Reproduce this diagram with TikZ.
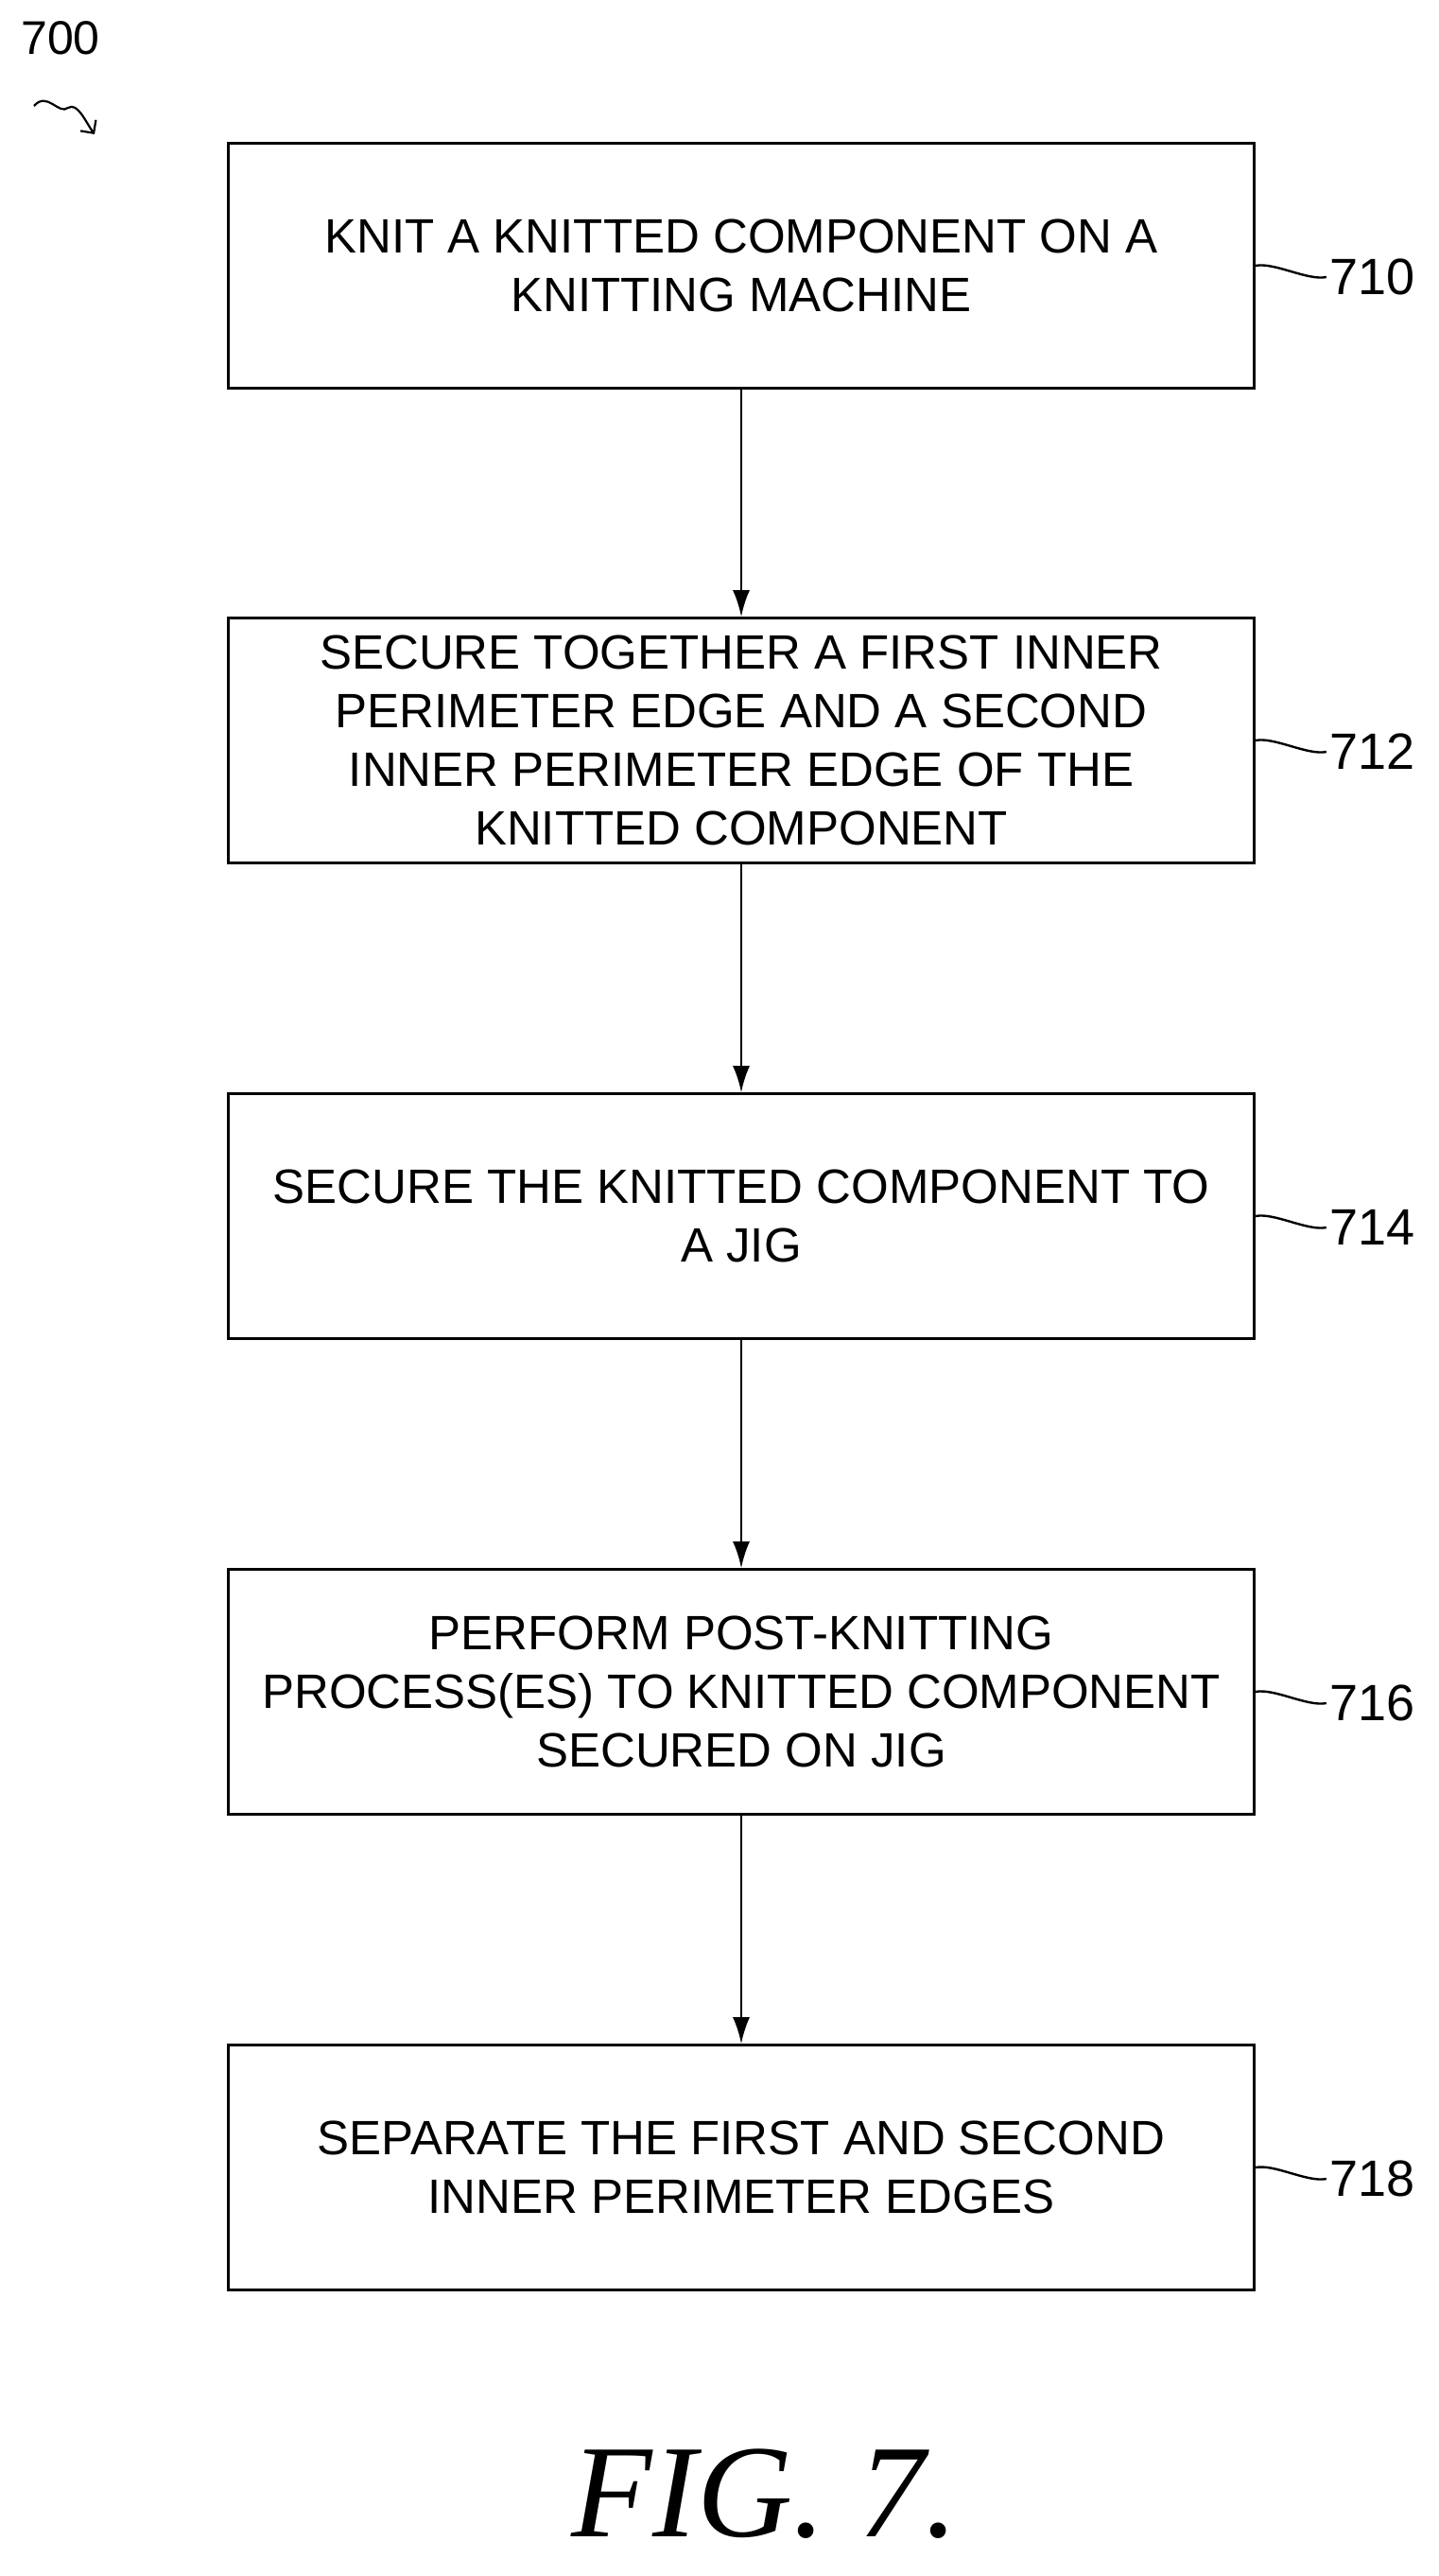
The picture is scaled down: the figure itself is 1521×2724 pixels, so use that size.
\documentclass[tikz,border=0pt]{standalone}
\usepackage{fontspec}
\setmainfont{Liberation Sans}
\newfontfamily\figfont{Liberation Serif}
\usetikzlibrary{arrows.meta}
\begin{document}
\begin{tikzpicture}[x=1pt,y=-1pt,
  box/.style={draw,line width=2.6pt,minimum width=1085pt,minimum height=259pt,align=center,font=\fontsize{51}{62}\selectfont,inner sep=0pt},
  arr/.style={line width=2.6pt,-{Latex[length=28pt,width=18pt]}},
  lab/.style={font=\fontsize{54}{58}\selectfont,anchor=west},
  lead/.style={line width=2.4pt}]
\useasboundingbox (0,0) rectangle (1521,2724);
\node[box] (b1) at (784,281) {KNIT A KNITTED COMPONENT ON A\\KNITTING MACHINE};
\node[box] (b2) at (784,783) {SECURE TOGETHER A FIRST INNER\\PERIMETER EDGE AND A SECOND\\INNER PERIMETER EDGE OF THE\\KNITTED COMPONENT};
\node[box] (b3) at (784,1286) {SECURE THE KNITTED COMPONENT TO\\A JIG};
\node[box] (b4) at (784,1789) {PERFORM POST-KNITTING\\PROCESS(ES) TO KNITTED COMPONENT\\SECURED ON JIG};
\node[box] (b5) at (784,2292) {SEPARATE THE FIRST AND SECOND\\INNER PERIMETER EDGES};
\foreach \a/\b in {b1/b2,b2/b3,b3/b4,b4/b5} \draw[arr] (\a.south) -- (\b.north);
\foreach \b/\t in {b1/710,b2/712,b3/714,b4/716,b5/718}{
  \node[lab] (l\t) at ([xshift=75pt,yshift=-12pt]\b.east) {\t};
  \draw[lead] (\b.east) .. controls +(20,-4) and +(-20,4) .. (l\t.west);
}
\node[font=\fontsize{50}{54}\selectfont] (n700) at (64,40) {700};
\coordinate (a700) at (100,142);
\draw[line width=2.2pt,-{Straight Barb[length=10pt]}] (36,112) .. controls (50,96) and (62,122) .. (72,114) .. controls (82,108) and (90,128) .. (a700);
\node[font=\figfont\itshape\fontsize{140}{150}\selectfont] (fig) at (809,2637) {FIG. 7.};
\end{tikzpicture}
\end{document}
